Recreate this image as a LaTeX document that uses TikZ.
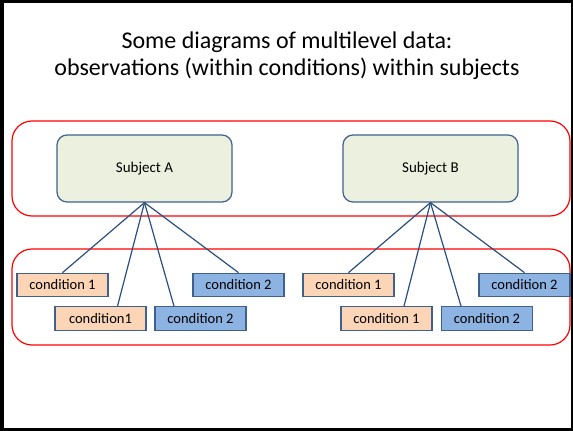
\documentclass[tikz,border=0pt]{standalone}
\usepackage{fontspec}
\setmainfont{Carlito}
\definecolor{subfill}{HTML}{EBF1DE}
\definecolor{boxline}{HTML}{3F6190}
\definecolor{peach}{HTML}{FBD5B5}
\definecolor{bluefill}{HTML}{8DB3E2}
\definecolor{linkcol}{HTML}{2B4F80}
\definecolor{grp}{HTML}{FF0000}
\tikzset{
  subj/.style={draw=boxline, fill=subfill, line width=1.2pt, rounded corners=10pt,
    minimum width=175pt, minimum height=67pt, font=\fontsize{15}{17}\selectfont, inner sep=0pt},
  cond/.style={draw=boxline, line width=1.2pt, minimum width=91pt, minimum height=23.5pt,
    font=\fontsize{14.5}{16}\selectfont, inner sep=0pt},
  condone/.style={cond, fill=peach},
  condtwo/.style={cond, fill=bluefill},
  group/.style={draw=grp, line width=1.2pt, rounded corners=20pt},
  link/.style={draw=linkcol, line width=1.2pt},
  titletext/.style={anchor=base, inner sep=0pt, font=\fontsize{24}{28}\selectfont}
}
\begin{document}
\begin{tikzpicture}[x=1pt,y=-1pt]
\useasboundingbox (0,0) rectangle (573,431);
\fill[white] (0,0) rectangle (573,431);
% frame
\fill[black] (0,0) rectangle (4,431);
\fill[black] (0,0) rectangle (573,3);
\fill[black] (571,0) rectangle (573,431);
\fill[black] (0,427.5) rectangle (573,431);
% title
\node[titletext] (title1) at (287,48) {Some diagrams of multilevel data:};
\node[titletext] (title2) at (287,75) {observations (within conditions) within subjects};
% groups
\draw[group] (12,121) rectangle (570,216);
\draw[group] (12,249) rectangle (570,345);
% subjects
\node[subj] (sa) at (144.5,168.5) {Subject A};
\node[subj] (sb) at (430.5,168.5) {Subject B};
% conditions A
\node[condone] (a1) at (62.5,285) {condition 1};
\node[condone] (a2) at (100.5,318.5) {condition1};
\node[condtwo] (a3) at (200.5,318.5) {condition 2};
\node[condtwo] (a4) at (238.5,285) {condition 2};
% conditions B
\node[condone] (b1) at (348.5,285) {condition 1};
\node[condone] (b2) at (386.5,318.5) {condition 1};
\node[condtwo] (b3) at (487,318.5) {condition 2};
\node[condtwo] (b4) at (524.5,285) {condition 2};
% links
\draw[link] (sa.south) -- (a1.north);
\draw[link] (sa.south) -- ([xshift=17pt]a2.north);
\draw[link] (sa.south) -- ([xshift=-26.5pt]a3.north);
\draw[link] (sa.south) -- (a4.north);
\draw[link] (sb.south) -- (b1.north);
\draw[link] (sb.south) -- ([xshift=17.5pt]b2.north);
\draw[link] (sb.south) -- ([xshift=-26pt]b3.north);
\draw[link] (sb.south) -- (b4.north);
\end{tikzpicture}
\end{document}
